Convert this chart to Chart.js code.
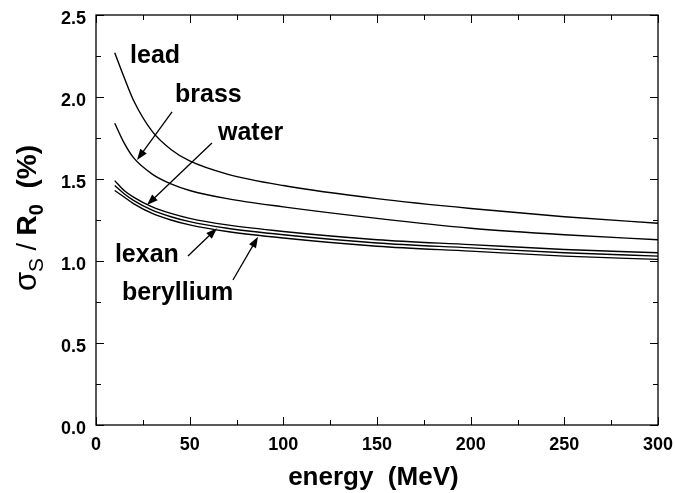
<!DOCTYPE html>
<html>
<head>
<meta charset="utf-8">
<script src="https://cdn.jsdelivr.net/npm/chart.js@4"></script>
<style>
  html, body { margin: 0; padding: 0; background: #fff; }
  #wrap { width: 675px; height: 493px; }
</style>
</head>
<body>
<div id="wrap"><canvas id="chart"></canvas></div>
<script>
const energy    = [10, 15, 20, 30, 40, 50, 70, 100, 150, 200, 250, 300];
const lead      = [2.27, 2.12, 1.98, 1.79, 1.68, 1.61, 1.53, 1.46, 1.38, 1.32, 1.27, 1.23];
const brass     = [1.84, 1.72, 1.63, 1.53, 1.47, 1.43, 1.38, 1.33, 1.26, 1.20, 1.16, 1.13];
const water     = [1.49, 1.43, 1.39, 1.33, 1.29, 1.26, 1.22, 1.18, 1.13, 1.10, 1.07, 1.05];
const lexan     = [1.46, 1.41, 1.37, 1.31, 1.27, 1.24, 1.20, 1.16, 1.11, 1.08, 1.05, 1.03];
const beryllium = [1.43, 1.39, 1.35, 1.29, 1.25, 1.22, 1.18, 1.14, 1.09, 1.06, 1.03, 1.01];

// text labels in data units (left edge, vertical middle)
const labels = [
  { text: "lead",      x: 18.2, y: 2.247 },
  { text: "brass",     x: 42.2, y: 2.012 },
  { text: "water",     x: 65.1, y: 1.78 },
  { text: "lexan",     x: 10.1, y: 1.037 },
  { text: "beryllium", x: 13.9, y: 0.802 }
];
// arrows in data units: tail -> head
const arrows = [
  { x0: 40.6, y0: 1.909, x1: 21.9, y1: 1.616 },
  { x0: 61.9, y0: 1.72,  x1: 27.2, y1: 1.341 },
  { x0: 49.1, y0: 1.03,  x1: 64.6, y1: 1.2 },
  { x0: 73.1, y0: 0.884, x1: 86.5, y1: 1.148 }
];

const FONT = "Liberation Sans, Arial, Helvetica, sans-serif";

function series(data) {
  return {
    data: energy.map((e, i) => ({ x: e, y: data[i] })),
    borderColor: "#000",
    borderWidth: 1.4,
    pointRadius: 0,
    fill: false,
    cubicInterpolationMode: "monotone"
  };
}

const frame = {
  id: "frame",
  afterDraw(chart) {
    const ctx = chart.ctx;
    const a = chart.chartArea;
    const xs = chart.scales.x, ys = chart.scales.y;
    ctx.save();
    ctx.strokeStyle = "#000";
    ctx.lineWidth = 1.3;
    ctx.strokeRect(a.left, a.top, a.right - a.left, a.bottom - a.top);
    ctx.lineWidth = 1;
    ctx.beginPath();
    xs.ticks.forEach(t => {
      const p = Math.round(xs.getPixelForValue(t.value)) + 0.5;
      const len = t.value % 50 === 0 ? 8 : 5;
      ctx.moveTo(p, a.bottom); ctx.lineTo(p, a.bottom - len);
      ctx.moveTo(p, a.top); ctx.lineTo(p, a.top + len);
    });
    ys.ticks.forEach(t => {
      const p = Math.round(ys.getPixelForValue(t.value)) + 0.5;
      const len = Math.abs(t.value * 2 - Math.round(t.value * 2)) < 1e-6 ? 8 : 5;
      ctx.moveTo(a.left, p); ctx.lineTo(a.left + len, p);
      ctx.moveTo(a.right, p); ctx.lineTo(a.right - len, p);
    });
    ctx.stroke();

    // annotations
    ctx.fillStyle = "#000";
    ctx.font = "bold 25px " + FONT;
    ctx.textBaseline = "middle";
    ctx.textAlign = "left";
    labels.forEach(l => {
      ctx.fillText(l.text, xs.getPixelForValue(l.x), ys.getPixelForValue(l.y));
    });
    arrows.forEach(ar => {
      const x0 = xs.getPixelForValue(ar.x0), y0 = ys.getPixelForValue(ar.y0);
      const x1 = xs.getPixelForValue(ar.x1), y1 = ys.getPixelForValue(ar.y1);
      const ang = Math.atan2(y1 - y0, x1 - x0);
      const hl = 11, hw = 4;
      ctx.lineWidth = 1.3;
      ctx.beginPath();
      ctx.moveTo(x0, y0);
      ctx.lineTo(x1 - hl * 0.8 * Math.cos(ang), y1 - hl * 0.8 * Math.sin(ang));
      ctx.stroke();
      ctx.beginPath();
      ctx.moveTo(x1, y1);
      ctx.lineTo(x1 - hl * Math.cos(ang) + hw * Math.sin(ang), y1 - hl * Math.sin(ang) - hw * Math.cos(ang));
      ctx.lineTo(x1 - hl * Math.cos(ang) - hw * Math.sin(ang), y1 - hl * Math.sin(ang) + hw * Math.cos(ang));
      ctx.closePath();
      ctx.fill();
    });

    // y axis title with subscripts
    const cy = (a.top + a.bottom) / 2 - 2;
    ctx.translate(28, cy);
    ctx.rotate(-Math.PI / 2);
    const parts = [
      { t: "\u03c3", f: "31px " + FONT, dy: 0 },
      { t: "S", f: "21px " + FONT, dy: 7 },
      { t: " / ", f: "27px " + FONT, dy: 0 },
      { t: "R", f: "bold 28px " + FONT, dy: 0 },
      { t: "0", f: "bold 20px " + FONT, dy: 7 },
      { t: "  (%)", f: "bold 28px " + FONT, dy: 0 }
    ];
    let w = 0;
    parts.forEach(p => { ctx.font = p.f; w += ctx.measureText(p.t).width; });
    let x = -w / 2;
    ctx.textBaseline = "alphabetic";
    parts.forEach(p => {
      ctx.font = p.f;
      ctx.fillText(p.t, x, 8 + p.dy);
      x += ctx.measureText(p.t).width;
    });
    ctx.restore();
  }
};

new Chart(document.getElementById("chart"), {
  type: "line",
  data: {
    datasets: [series(lead), series(brass), series(water), series(lexan), series(beryllium)]
  },
  options: {
    responsive: true,
    maintainAspectRatio: false,
    animation: false,
    events: [],
    layout: { padding: { top: 15, right: 17, left: 0, bottom: 0 } },
    plugins: { legend: { display: false }, tooltip: { enabled: false } },
    scales: {
      x: {
        type: "linear",
        min: 0, max: 300,
        grid: { display: false, drawTicks: false },
        border: { display: false },
        ticks: {
          stepSize: 25,
          autoSkip: false,
          maxRotation: 0,
          padding: 9,
          color: "#000",
          font: { family: FONT, size: 18, weight: "bold" },
          callback: v => (v % 50 === 0 ? v : "")
        },
        title: {
          display: true,
          text: "energy  (MeV) ",
          color: "#000",
          font: { family: FONT, size: 26, weight: "bold" },
          padding: { top: 2, bottom: 0 }
        },
        afterFit(scale) {
          scale.height = 68;
          scale.paddingLeft = 0;
          scale.paddingRight = 0;
        }
      },
      y: {
        min: 0, max: 2.5,
        grid: { display: false, drawTicks: false },
        border: { display: false },
        ticks: {
          stepSize: 0.25,
          autoSkip: false,
          padding: 10,
          labelOffset: 4,
          color: "#000",
          font: { family: FONT, size: 18, weight: "bold" },
          callback: v => (Math.abs(v * 2 - Math.round(v * 2)) < 1e-6 ? v.toFixed(1) : "")
        },
        afterFit(scale) {
          scale.width = 96;
          scale.paddingTop = 0;
          scale.paddingBottom = 0;
        }
      }
    }
  },
  plugins: [frame]
});
</script>
</body>
</html>
